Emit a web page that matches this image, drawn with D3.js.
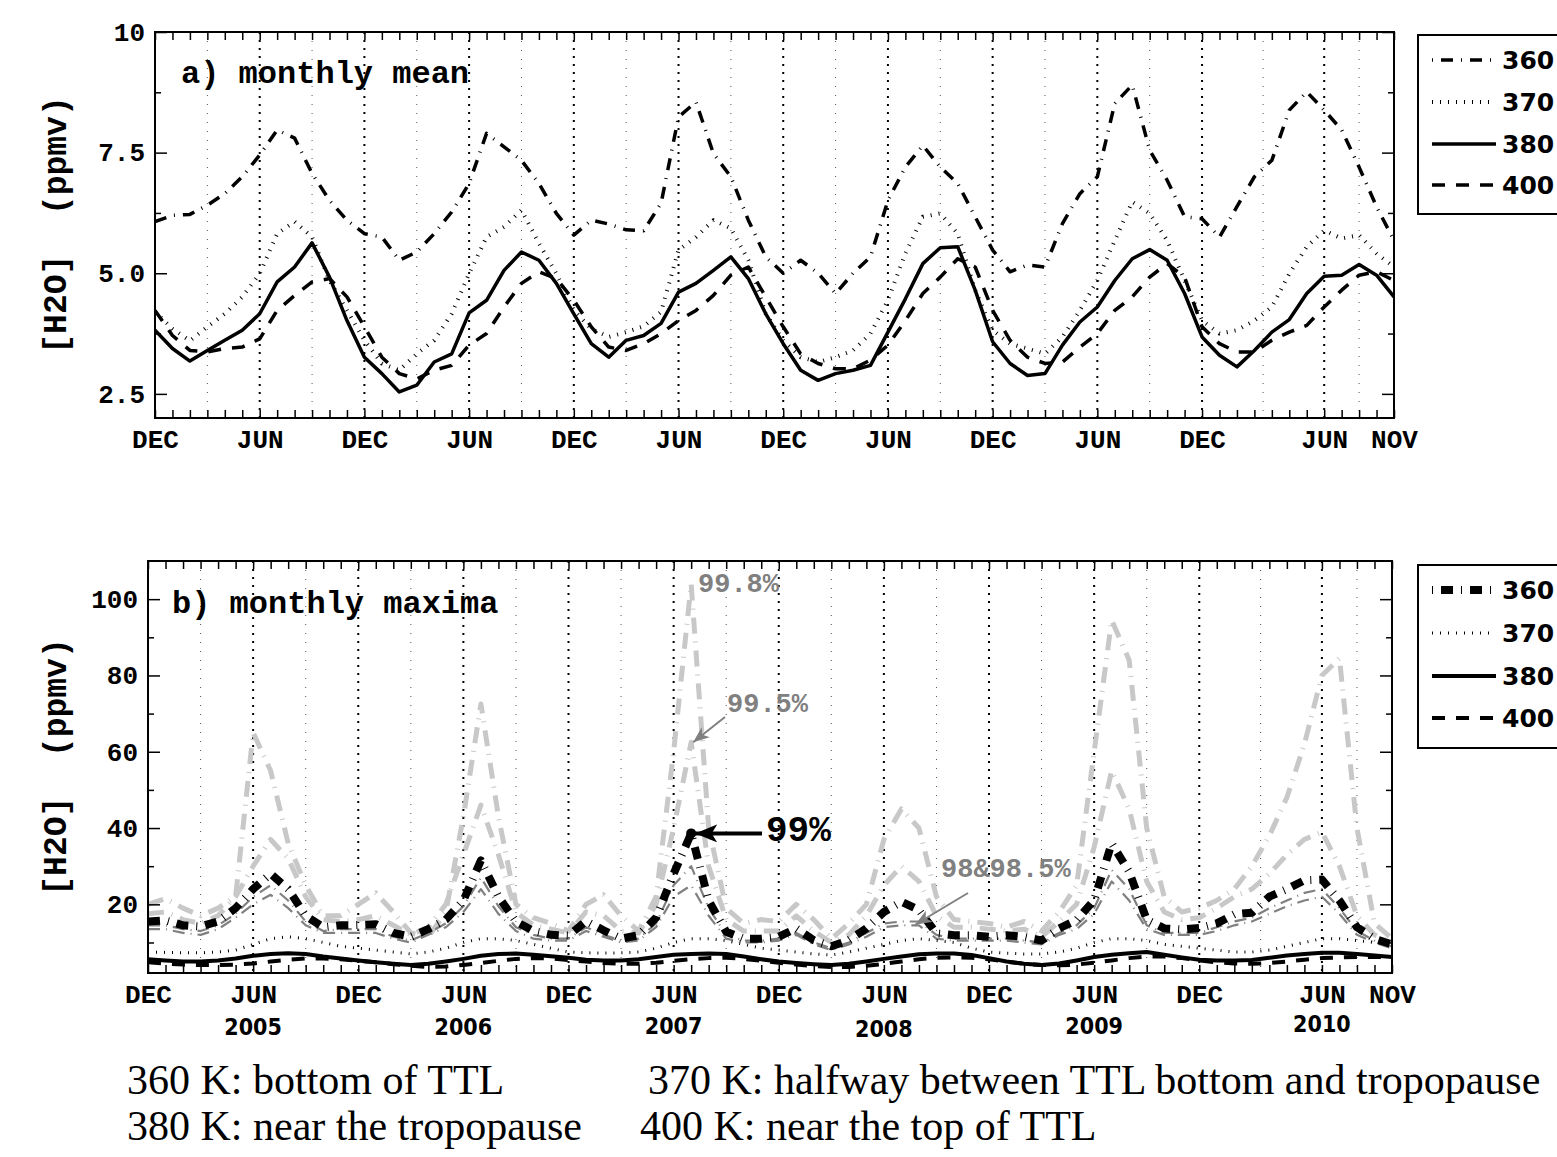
<!DOCTYPE html>
<html>
<head>
<meta charset="utf-8">
<script src="https://cdn.jsdelivr.net/npm/d3@7"></script>
<style>
body { margin: 0; background: #fff; }
svg { display: block; }
</style>
</head>
<body>
<svg id="chart"></svg>
<script>
// month index 0 = DEC 2004 ... 71 = NOV 2010
const months = d3.range(72);

// a) monthly mean [H2O] (ppmv)
const mean360 = [6.07, 6.2, 6.22, 6.41, 6.65, 7.0, 7.45, 7.97, 7.8, 7.07, 6.51, 6.1, 5.82, 5.75, 5.27, 5.44, 5.82, 6.27, 6.86, 7.9,
  7.62, 7.34, 6.86, 6.24, 5.79, 6.1, 6.02, 5.9, 5.88, 6.45, 8.24, 8.55, 7.48, 7.0, 6.1, 5.34, 5.0, 5.27, 5.0, 4.58,
  5.0, 5.34, 6.51, 7.2, 7.65, 7.2, 6.86, 6.17, 5.48, 5.03, 5.17, 5.13, 6.03, 6.65, 7.0, 8.52, 8.9, 7.55, 6.93, 6.17,
  6.13, 5.75, 6.38, 7.0, 7.34, 8.38, 8.76, 8.38, 7.97, 7.2, 6.38, 5.68];
const mean370 = [4.2, 3.85, 3.6, 3.89, 4.16, 4.51, 4.99, 5.82, 6.07, 5.75, 4.85, 4.23, 3.61, 3.13, 2.99, 3.33, 3.61, 4.16, 4.99, 5.75,
  5.96, 6.31, 5.62, 4.99, 4.23, 3.85, 3.68, 3.78, 3.9, 4.2, 5.48, 5.75, 6.1, 5.93, 5.27, 4.16, 3.61, 3.26, 3.16, 3.26,
  3.4, 3.75, 4.44, 5.41, 6.17, 6.24, 5.82, 4.65, 3.82, 3.54, 3.44, 3.33, 3.68, 4.23, 4.85, 5.68, 6.48, 6.24, 5.68, 4.85,
  4.02, 3.75, 3.82, 4.02, 4.3, 4.99, 5.55, 5.89, 5.72, 5.79, 5.41, 5.13];
const mean380 = [3.82, 3.44, 3.18, 3.4, 3.61, 3.82, 4.16, 4.82, 5.13, 5.63, 4.92, 4.02, 3.26, 2.92, 2.54, 2.68, 3.16, 3.33, 4.18, 4.44,
  5.06, 5.44, 5.27, 4.79, 4.16, 3.54, 3.26, 3.61, 3.71, 3.96, 4.61, 4.79, 5.06, 5.34, 4.89, 4.16, 3.54, 2.99, 2.78, 2.92,
  2.99, 3.09, 3.78, 4.47, 5.2, 5.53, 5.55, 4.65, 3.58, 3.13, 2.88, 2.92, 3.51, 3.99, 4.3, 4.85, 5.3, 5.49, 5.27, 4.58,
  3.68, 3.3, 3.06, 3.4, 3.78, 4.04, 4.58, 4.94, 4.96, 5.18, 4.96, 4.51];
const mean400 = [4.23, 3.71, 3.4, 3.37, 3.44, 3.47, 3.64, 4.23, 4.54, 4.82, 4.89, 4.51, 3.89, 3.26, 2.92, 2.81, 2.99, 3.09, 3.51, 3.75,
  4.3, 4.79, 5.03, 4.89, 4.44, 3.89, 3.47, 3.4, 3.54, 3.75, 4.02, 4.23, 4.54, 4.96, 5.13, 4.51, 3.89, 3.33, 3.13, 3.02,
  3.02, 3.2, 3.51, 4.02, 4.58, 4.92, 5.3, 5.13, 4.23, 3.61, 3.26, 3.13, 3.16, 3.47, 3.75, 4.23, 4.51, 4.92, 5.2, 4.92,
  3.89, 3.54, 3.37, 3.37, 3.61, 3.78, 3.92, 4.3, 4.65, 4.96, 5.03, 4.85];

// b) monthly maxima: 360 K percentiles
const max360p998 = [20, 21.5, 19, 17, 19, 22, 65, 55, 36, 25, 17, 17, 20, 23, 18, 12.5, 11.5, 18, 43, 72.5,
  43, 20, 16.5, 15, 13, 20, 22.5, 17, 13, 22, 60, 104, 40, 19, 15, 16, 15.5, 20, 16, 11,
  15, 20, 37, 45, 40, 22, 16, 15.5, 15, 14, 15.5, 13, 18, 25, 60, 94.5, 84, 40, 22, 18,
  19, 21, 24, 30, 38, 48, 62, 80, 84.5, 40, 15, 11];
const max360p995 = [17.5, 18, 16, 15, 17, 22, 30, 37, 32, 22, 16, 15.5, 16, 17, 14.5, 12, 14, 20, 33, 46,
  33, 18, 14.5, 13.5, 12.5, 18, 17, 13, 12.5, 20, 40, 62.5, 30, 16, 13, 13, 13, 17, 13, 10,
  12, 17, 25, 30, 26, 17, 14, 14, 13.5, 13, 13.5, 11.5, 15.5, 20, 35, 55, 45, 26, 18, 16,
  16.5, 19, 22, 24, 28, 33, 37, 39, 30, 17, 12, 10];
const max360p99 = [15.5, 15.8, 14.5, 14.2, 15.5, 19, 24, 28, 24, 17, 14, 14.5, 14.6, 14.8, 12.5, 11.5, 13.5, 16, 21, 31.5,
  22, 15.5, 13, 12, 11.8, 15.6, 13.2, 11, 11.9, 16.5, 28, 38.6, 21, 12.8, 11, 11, 11.5, 13.7, 10.6, 9,
  10.6, 13.7, 18, 20.7, 18.5, 12.4, 11.9, 11.9, 11.5, 11.9, 11.5, 10.5, 13.7, 15.9, 21.1, 36, 28.5, 16, 13.7, 13.4,
  13.8, 15, 17.4, 17.8, 22, 24, 26.3, 26.5, 21, 14, 11, 9.5];
const max360p985 = [14.5, 14.5, 13.5, 13, 14.5, 17.5, 22, 25, 21, 15.5, 13, 13.5, 13.5, 13.5, 11.5, 10.5, 12.5, 15, 19.5, 27,
  19.5, 14, 12, 11, 11, 14, 12, 10.5, 11, 15, 25, 30, 19, 12, 10.5, 10.5, 11, 12.5, 10, 8.5,
  10, 12.5, 15, 15.5, 15.5, 12, 11, 11, 11, 11, 10.5, 10, 12.5, 14.5, 19, 29, 24, 14.5, 12.5, 12.5,
  12.5, 14, 15.5, 16.5, 19, 21, 23, 24, 19, 13, 10.5, 9];
const max360p98 = [13.5, 13.5, 12.5, 12, 13.5, 16.5, 20, 22.5, 19, 14.5, 12.5, 12.5, 12.5, 12.5, 11, 10, 12, 14, 18, 24,
  17.5, 13, 11, 10.5, 10.5, 13, 11.5, 10, 10.5, 14, 22, 25, 17, 11, 10, 10, 10.5, 12, 9.5, 8,
  9.5, 11.5, 14, 14.5, 14.5, 11, 10.5, 10.5, 10.5, 10.5, 10, 9.5, 12, 13.5, 17.5, 26, 21, 13.5, 12, 12,
  12, 13, 14.5, 15.5, 17.5, 19.5, 21, 22, 17.5, 12, 10, 8.5];
const max370 = [7.5, 7.4, 7.3, 7.3, 7.5, 8, 9.5, 11, 11.5, 11, 10, 9, 8.5, 8, 7.5, 7, 7.5, 8.5, 10, 11,
  11, 10.5, 9.5, 8.5, 7.5, 7.3, 7.2, 7.3, 7.5, 8.5, 10, 11, 11, 10.5, 9.5, 8.5, 8, 7.5, 7, 6.7,
  7.5, 8.5, 9.5, 10.5, 11, 10.5, 10, 8.5, 7.5, 7.2, 7, 7, 7.5, 8.5, 10, 11, 11, 10.5, 9.5, 9,
  8.5, 8, 7.5, 7.5, 8, 9, 10, 11, 11, 10.5, 10, 9.5];
const max380 = [5.6, 5.3, 5, 5, 5.3, 5.8, 6.5, 7, 7.2, 7, 6.3, 5.8, 5.3, 4.8, 4.4, 4.1, 4.4, 5, 5.7, 6.5,
  7, 7.1, 6.8, 6.4, 6, 5.5, 5.3, 5.3, 5.6, 6.2, 6.8, 7, 7.1, 7, 6.3, 5.6, 5, 4.6, 4.3, 4.1,
  4.4, 5, 5.7, 6.3, 6.9, 7.1, 7.1, 6.7, 5.9, 5, 4.4, 4.1, 4.5, 5.3, 6.2, 6.8, 7.2, 7.5, 6.8, 6.1,
  5.5, 5.3, 5.3, 5.4, 6, 6.6, 7, 7.3, 7.3, 7, 6.6, 6.2];
const max400 = [4.8, 4.5, 4.2, 4.1, 4.1, 4.2, 4.5, 5, 5.5, 5.8, 5.8, 5.6, 5.2, 4.8, 4.3, 3.9, 3.6, 3.7, 4.1, 4.6,
  5.2, 5.7, 5.9, 5.8, 5.4, 5, 4.6, 4.4, 4.4, 4.7, 5.2, 5.6, 5.9, 6, 5.7, 5.2, 4.7, 4.2, 3.8, 3.6,
  3.6, 3.9, 4.4, 5, 5.6, 6, 6.1, 6, 5.6, 5, 4.4, 4.1, 4, 4.2, 4.7, 5.3, 5.9, 6.3, 6.3, 5.9,
  5.3, 4.8, 4.5, 4.4, 4.6, 5, 5.5, 5.9, 6.1, 6.2, 6.2, 6.1];

// axis labels
const monthLabelIdx = [0, 6, 12, 18, 24, 30, 36, 42, 48, 54, 60, 67, 71];
const monthLabelText = ["DEC", "JUN", "DEC", "JUN", "DEC", "JUN", "DEC", "JUN", "DEC", "JUN", "DEC", "JUN", "NOV"];
const yearIdx = [6, 18, 30, 42, 54, 67];
const yearText = ["2005", "2006", "2007", "2008", "2009", "2010"];
const majorGrid = [6, 12, 18, 24, 30, 36, 42, 48, 54, 60, 67];
const minorGrid = [3, 9, 15, 21, 27, 33, 39, 45, 51, 57, 63.5, 69];
const meanTicks = [2.5, 5, 7.5, 10];
const meanMinorTicks = [3.75, 6.25, 8.75];
const maxTicks = [20, 40, 60, 80, 100];
const maxMinorTicks = [10, 30, 50, 70, 90];
const legendLabels = ["360", "370", "380", "400"];
const captionLines = [
    ["360 K: bottom of TTL", "370 K: halfway between TTL bottom and tropopause"],
    ["380 K: near the tropopause", "400 K: near the top of TTL"]
];

const monoFont = "'Liberation Mono', 'DejaVu Sans Mono', monospace";
const sansFont = "'DejaVu Sans', sans-serif";
const serifFont = "'Liberation Serif', 'DejaVu Serif', serif";
const GRAY = "#808080", LIGHT = "#c8c8c8";

const svg = d3.select("#chart").attr("width", 1557).attr("height", 1157);

// defs: arrow heads
const defs = svg.append("defs");
function arrowMarker(id, color, len, wid) {
    defs.append("marker")
        .attr("id", id)
        .attr("markerUnits", "userSpaceOnUse")
        .attr("viewBox", `0 0 ${len} ${wid}`)
        .attr("refX", len).attr("refY", wid / 2)
        .attr("markerWidth", len).attr("markerHeight", wid)
        .attr("orient", "auto")
        .append("path")
        .attr("d", `M0,0 L${len},${wid / 2} L0,${wid} L${len * 0.25},${wid / 2} Z`)
        .attr("fill", color);
}
arrowMarker("arrGray", GRAY, 16, 13);
arrowMarker("arrBlack", "#000", 22, 18);

function drawPanel(p, yDomain, yMajor, yMinor, fmt, series) {
    const x = d3.scaleLinear().domain([0, 71]).range([p.left, p.right]);
    const y = d3.scaleLinear().domain(yDomain).range([p.bottom, p.top]);
    const g = svg.append("g");

    defs.append("clipPath").attr("id", "clip" + p.id)
        .append("rect")
        .attr("x", p.left).attr("y", p.top)
        .attr("width", p.right - p.left).attr("height", p.bottom - p.top);

    // dotted vertical grid
    g.selectAll(".gminor").data(minorGrid).join("line")
        .attr("x1", d => x(d)).attr("x2", d => x(d))
        .attr("y1", p.top).attr("y2", p.bottom)
        .attr("stroke", "#555").attr("stroke-width", 1)
        .attr("stroke-dasharray", "1,8");
    g.selectAll(".gmajor").data(majorGrid).join("line")
        .attr("x1", d => x(d)).attr("x2", d => x(d))
        .attr("y1", p.top).attr("y2", p.bottom)
        .attr("stroke", "#000").attr("stroke-width", 2)
        .attr("stroke-dasharray", "2,6");

    // series
    const line = d3.line().x((d, i) => x(i)).y(d => y(d));
    const lines = g.append("g").attr("clip-path", `url(#clip${p.id})`);
    series.forEach(s => {
        lines.append("path")
            .datum(s.values)
            .attr("d", line)
            .attr("fill", "none")
            .attr("stroke", s.stroke)
            .attr("stroke-width", s.width)
            .attr("stroke-dasharray", s.dash)
            .attr("stroke-linejoin", "round");
    });

    const styleAxis = sel => {
        sel.select(".domain").remove();
        sel.selectAll(".tick line").attr("stroke", "#000").attr("stroke-width", 1.5);
        sel.attr("font-family", monoFont).attr("font-weight", "bold").attr("font-size", 26);
        sel.selectAll("text").attr("fill", "#000");
    };

    // month ticks top/bottom, y ticks left/right, all inward
    g.append("g").attr("transform", `translate(0,${p.top})`)
        .call(d3.axisTop(x).tickValues(months).tickSize(-8).tickFormat("")).call(styleAxis);
    g.append("g").attr("transform", `translate(0,${p.bottom})`)
        .call(d3.axisBottom(x).tickValues(months).tickSize(-8).tickFormat("")).call(styleAxis);
    g.append("g").attr("transform", `translate(0,${p.bottom})`)
        .call(d3.axisBottom(x).tickValues(monthLabelIdx).tickSize(0).tickPadding(12)
            .tickFormat((d, i) => monthLabelText[i])).call(styleAxis);
    g.append("g").attr("transform", `translate(${p.left},0)`)
        .call(d3.axisLeft(y).tickValues(yMajor).tickSize(-12).tickPadding(10).tickFormat(fmt)).call(styleAxis);
    g.append("g").attr("transform", `translate(${p.left},0)`)
        .call(d3.axisLeft(y).tickValues(yMinor).tickSize(-6).tickFormat("")).call(styleAxis);
    g.append("g").attr("transform", `translate(${p.right},0)`)
        .call(d3.axisRight(y).tickValues(yMajor).tickSize(-12).tickFormat("")).call(styleAxis);
    g.append("g").attr("transform", `translate(${p.right},0)`)
        .call(d3.axisRight(y).tickValues(yMinor).tickSize(-6).tickFormat("")).call(styleAxis);

    // frame
    g.append("rect")
        .attr("x", p.left).attr("y", p.top)
        .attr("width", p.right - p.left).attr("height", p.bottom - p.top)
        .attr("fill", "none").attr("stroke", "#000").attr("stroke-width", 2);

    // y label
    g.append("text")
        .attr("transform", `translate(57,${(p.top + p.bottom) / 2}) rotate(-90)`)
        .attr("text-anchor", "middle").attr("dominant-baseline", "central")
        .attr("font-family", monoFont).attr("font-weight", "bold").attr("font-size", 33)
        .style("white-space", "pre")
        .text("[H2O]  (ppmv)");

    // panel title
    g.append("text")
        .attr("x", p.titleX).attr("y", p.titleY)
        .attr("font-family", monoFont).attr("font-weight", "bold").attr("font-size", 32)
        .style("white-space", "pre")
        .text(p.title);

    return { x, y, g };
}

function drawLegend(left, top, height, rowsY, styles) {
    const lg = svg.append("g");
    lg.append("rect")
        .attr("x", left).attr("y", top).attr("width", 200).attr("height", height)
        .attr("fill", "#fff").attr("stroke", "#000").attr("stroke-width", 2);
    legendLabels.forEach((lab, i) => {
        const s = styles[i];
        lg.append("line")
            .attr("x1", left + 14).attr("x2", left + 78)
            .attr("y1", rowsY[i]).attr("y2", rowsY[i])
            .attr("stroke", s.stroke).attr("stroke-width", s.width)
            .attr("stroke-dasharray", s.dash)
            .attr("stroke-dashoffset", s.legendOffset || 0);
        lg.append("text")
            .attr("x", left + 84).attr("y", rowsY[i])
            .attr("dominant-baseline", "central")
            .attr("font-family", sansFont).attr("font-weight", "bold").attr("font-size", 25)
            .text(lab);
    });
}

// ---- panel a
const styleMean = [
    { values: mean360, stroke: "#000", width: 3.5, dash: "12,8,1,8", legendOffset: 20 },
    { values: mean370, stroke: "#000", width: 4, dash: "1,7" },
    { values: mean380, stroke: "#000", width: 3.5, dash: null },
    { values: mean400, stroke: "#000", width: 3.5, dash: "13,11" }
];
drawPanel({ id: "a", left: 155, right: 1394, top: 32, bottom: 418, title: "a) monthly mean", titleX: 181, titleY: 83 },
    [2, 10], meanTicks, meanMinorTicks, d => d === 10 ? "10" : d3.format(".1f")(d), styleMean);
drawLegend(1418, 35, 179, [60, 102, 144, 185], styleMean);

// ---- panel b
const styleMax = [
    { values: max360p998, stroke: LIGHT, width: 5, dash: "16,8,1,8" },
    { values: max360p995, stroke: LIGHT, width: 5, dash: "16,8,1,8" },
    { values: max360p98, stroke: GRAY, width: 2.2, dash: "12,6,1,6" },
    { values: max360p985, stroke: GRAY, width: 2.2, dash: "12,6,1,6" },
    { values: max370, stroke: "#000", width: 3, dash: "1,7" },
    { values: max380, stroke: "#000", width: 4, dash: null },
    { values: max400, stroke: "#000", width: 4, dash: "13,11" },
    { values: max360p99, stroke: "#000", width: 8, dash: "12,8,1,8", legendOffset: 20 }
];
const b = drawPanel({ id: "b", left: 148, right: 1392, top: 561, bottom: 973, title: "b) monthly maxima", titleX: 172, titleY: 613 },
    [2, 110], maxTicks, maxMinorTicks, d3.format("d"), styleMax);
drawLegend(1418, 565, 183, [590, 633, 676, 718],
    [styleMax[7], styleMax[4], styleMax[5], styleMax[6]]);

// year labels under the JUN ticks
b.g.selectAll(".year").data(yearIdx).join("text")
    .attr("x", d => b.x(d)).attr("y", (d, i) => [1035, 1035, 1034, 1037, 1034, 1032][i])
    .attr("text-anchor", "middle")
    .attr("font-family", "'DejaVu Sans Condensed', 'DejaVu Sans', sans-serif")
    .attr("font-stretch", "condensed")
    .attr("font-weight", "bold").attr("font-size", 23)
    .text((d, i) => yearText[i]);

// annotations
const ann = b.g.append("g").attr("font-family", monoFont).attr("font-weight", "bold");
ann.append("text").attr("x", 698).attr("y", 592).attr("font-size", 27).attr("fill", GRAY).text("99.8%");
ann.append("text").attr("x", 727).attr("y", 712).attr("font-size", 27).attr("fill", GRAY).text("99.5%");
ann.append("line")
    .attr("x1", 725).attr("y1", 717).attr("x2", b.x(31) + 2).attr("y2", b.y(max360p995[31]))
    .attr("stroke", GRAY).attr("stroke-width", 2).attr("marker-end", "url(#arrGray)");
ann.append("text").attr("x", 766).attr("y", 841).attr("font-size", 36).attr("fill", "#000").text("99%");
ann.append("line")
    .attr("x1", 762).attr("y1", b.y(max360p99[31])).attr("x2", b.x(31) + 4).attr("y2", b.y(max360p99[31]))
    .attr("stroke", "#000").attr("stroke-width", 4).attr("marker-end", "url(#arrBlack)");
ann.append("circle").attr("cx", b.x(31)).attr("cy", b.y(max360p99[31])).attr("r", 5).attr("fill", "#000");
ann.append("text").attr("x", 941).attr("y", 877).attr("font-size", 27).attr("fill", GRAY).text("98&98.5%");
ann.append("line")
    .attr("x1", 968).attr("y1", 893).attr("x2", b.x(43.8)).attr("y2", b.y(max360p985[44]) + 3)
    .attr("stroke", GRAY).attr("stroke-width", 2).attr("marker-end", "url(#arrGray)");

// caption
const cap = svg.append("g").attr("font-family", serifFont).attr("font-size", 42);
const capX = [[127, 648], [127, 640]];
captionLines.forEach((row, r) => {
    cap.append("text").attr("x", capX[r][0]).attr("y", 1094 + r * 46).text(row[0]);
    cap.append("text").attr("x", capX[r][1]).attr("y", 1094 + r * 46).text(row[1]);
});
</script>
</body>
</html>
